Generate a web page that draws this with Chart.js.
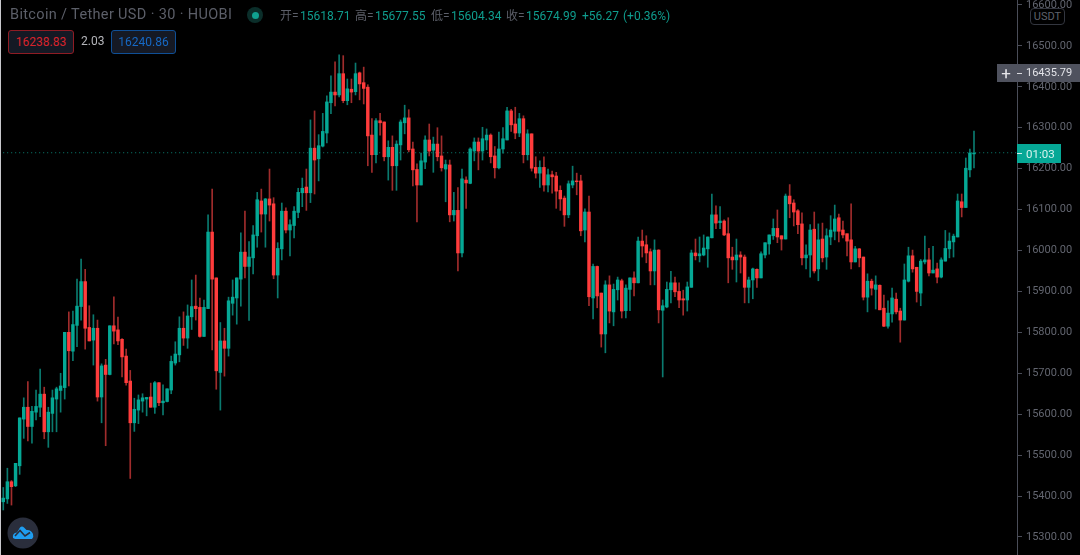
<!DOCTYPE html>
<html>
<head>
<meta charset="utf-8">
<title>Bitcoin / Tether USD</title>
<script src="https://cdn.jsdelivr.net/npm/chart.js@4/dist/chart.umd.js"></script>
<style>
  html, body { margin: 0; padding: 0; background: #000; }
  #wrap { position: relative; width: 1080px; height: 555px; overflow: hidden; background: #000; font-family: Roboto, "Noto Sans CJK SC", sans-serif; }
  #wrap canvas { position: absolute; left: 0; top: 0; }
  #edge { position: absolute; left: 0; top: 0; width: 1px; height: 555px; background: #c8c8cc; }
  .t { position: absolute; white-space: nowrap; font-size: 12px; line-height: 16px; }
  .grey { color: #5c5f69; }
  .teal { color: #0f9d8e; }
  .box { position: absolute; box-sizing: border-box; text-align: center; }
</style>
</head>
<body>
<div id="wrap">
  <canvas id="chart" width="1080" height="555"></canvas>
  <div id="edge"></div>

  <div class="t grey" style="left:10px;top:7px;font-size:14.5px;letter-spacing:.35px">Bitcoin / Tether USD · 30 · HUOBI</div>
  <div class="box" style="left:247px;top:7px;width:16px;height:16px;border-radius:8px;background:#0b2e2a"></div>
  <div class="box" style="left:251.5px;top:11.5px;width:7px;height:7px;border-radius:4px;background:#10a08f"></div>

  <div class="t grey" style="left:280px;top:8px">开=</div>
  <div class="t teal" style="left:300px;top:8px">15618.71</div>
  <div class="t grey" style="left:355px;top:8px">高=</div>
  <div class="t teal" style="left:375px;top:8px">15677.55</div>
  <div class="t grey" style="left:431px;top:8px">低=</div>
  <div class="t teal" style="left:451px;top:8px">15604.34</div>
  <div class="t grey" style="left:506px;top:8px">收=</div>
  <div class="t teal" style="left:526px;top:8px">15674.99</div>
  <div class="t teal" style="left:582px;top:8px">+56.27</div>
  <div class="t teal" style="left:623px;top:8px">(+0.36%)</div>

  <div class="box" style="left:8px;top:30px;width:66px;height:24px;line-height:22px;font-size:12px;border:1px solid #8f1c24;border-radius:3px;background:#151924;color:#d8232c">16238.83</div>
  <div class="t" style="left:81px;top:33px;color:#b4b5ba">2.03</div>
  <div class="box" style="left:111px;top:30px;width:65px;height:24px;line-height:22px;font-size:12px;border:1px solid #0f4f96;border-radius:3px;background:#151924;color:#1668c4">16240.86</div>

  <div class="box" style="left:1030px;top:8px;width:35px;height:17px;line-height:15px;font-size:11px;border:1px solid #33363f;border-radius:4px;background:#000;color:#5f626c">USDT</div>

  <div class="box" style="left:997px;top:64px;width:83px;height:18px;background:#4f525e"></div>
  <div class="t" style="left:999px;top:64px;width:14px;height:18px;line-height:18px;font-size:17px;text-align:center;color:#e6e6ea">+</div>
  <div class="box" style="left:1017px;top:72.5px;width:5px;height:1px;background:#d8d9de"></div>
  <div class="t" style="left:1026px;top:65px;font-size:11px;color:#e2e3e8">16435.79</div>

  <div class="box" style="left:1017px;top:144px;width:44px;height:19px;background:#06a896"></div>
  <div class="box" style="left:1017px;top:153px;width:5px;height:1px;background:#d4f1ed"></div>
  <div class="t" style="left:1026px;top:146px;font-size:11.5px;color:#d9f3ef">01:03</div>

  <svg style="position:absolute;left:7px;top:517px" width="32" height="32" viewBox="0 0 32 32">
    <circle cx="16" cy="16" r="15.5" fill="#2a2e3c"/>
    <path d="M6 21 Q5 16 10 15.5 L13 10.5 Q15 8.5 17 10.5 L19.5 13 Q24 12.5 26 17 Q27 20 25 22 L8 22 Z" fill="#1f9df0"/>
    <path d="M8 19 L13 13.5 L18 19 L23 15.5" fill="none" stroke="#2a2e3c" stroke-width="1.6"/>
  </svg>
</div>

<script>
// 30 minute candles
const opens = [
  15386,15393,15435,15425,15474,15588,15617,15570,15605,15617,
  15649,15557,15602,15637,15658,15665,15800,15754,15817,15863,
  15924,15812,15781,15810,15642,15720,15697,15816,15806,15783,
  15742,15681,15579,15610,15632,15637,15642,15617,15677,15628,
  15631,15659,15725,15745,15810,15786,15838,15864,15861,15790,
  15858,16045,15933,15702,15779,15761,15871,15884,15930,15996,
  15961,15982,16036,16121,16089,16126,16114,15940,16004,16096,
  16050,16061,16093,16141,16155,16141,16250,16224,16255,16287,
  16361,16387,16380,16432,16366,16394,16388,16434,16410,16399,
  16282,16234,16317,16314,16229,16252,16207,16258,16312,16324,
  16248,16198,16160,16216,16270,16245,16260,16231,16199,16209,
  16087,16098,15994,16172,16164,16243,16265,16243,16270,16282,
  16231,16202,16248,16270,16341,16309,16287,16322,16234,16285,
  16203,16189,16203,16160,16185,16182,16147,16128,16087,16160,
  16170,16170,16050,16094,15884,15961,15896,15796,15916,15850,
  15904,15926,15853,15905,15933,15921,16023,16014,15997,15950,
  16001,15854,15862,15904,15921,15900,15882,15879,15910,15994,
  15987,15989,16004,16031,16087,16068,16072,16041,15984,15977,
  15989,15984,15910,15928,15954,15933,15989,16016,16036,16054,
  16036,16028,16133,16116,16097,16065,15982,15989,16052,15955,
  16028,15984,16033,16047,16080,16050,16041,16026,15972,16004,
  15984,15886,15925,15905,15915,15859,15815,15845,15881,15852,
  15830,15925,15987,15959,15896,15972,15977,15945,15955,15935,
  15974,16004,16021,16033,16119,16105,16197,16236
]
const closes = [
  15395,15435,15423,15480,15591,15617,15570,15607,15619,15649,
  15557,15605,15640,15662,15669,15800,15755,15819,15864,15924,
  15810,15779,15810,15642,15718,15697,15816,15803,15779,15740,
  15677,15579,15612,15635,15640,15641,15617,15677,15628,15632,
  15662,15729,15747,15810,15786,15840,15863,15858,15790,15861,
  16045,15930,15706,15779,15761,15877,15886,15933,15996,15961,
  15984,16038,16124,16089,16126,16111,15940,16005,16096,16050,
  16063,16096,16142,16152,16141,16250,16221,16256,16291,16363,
  16387,16380,16432,16366,16395,16387,16432,16407,16396,16280,
  16234,16317,16312,16229,16252,16207,16260,16314,16324,16246,
  16197,16160,16219,16270,16243,16260,16229,16202,16210,16087,
  16098,15994,16175,16165,16248,16265,16243,16273,16282,16229,
  16202,16248,16273,16341,16307,16287,16322,16234,16285,16201,
  16189,16203,16160,16185,16180,16145,16126,16087,16163,16170,
  16168,16048,16094,15887,15961,15889,15796,15916,15852,15905,
  15928,15852,15908,15933,15921,16023,16011,15994,15950,16001,
  15855,15865,15905,15921,15899,15879,15879,15911,15994,15987,
  15992,16006,16033,16087,16067,16072,16038,15982,15977,15989,
  15984,15910,15928,15955,15933,15992,16019,16038,16054,16033,
  16028,16133,16114,16094,16063,15982,15989,16050,15950,16026,
  15982,16036,16050,16077,16047,16038,16023,15972,16004,15982,
  15886,15925,15908,15916,15855,15815,15847,15884,15850,15830,
  15928,15987,15955,15900,15974,15977,15945,15952,15935,15977,
  16005,16023,16035,16121,16105,16201,16238,16238
]
const highs = [
  15421,15468,15438,15480,15591,15640,15680,15619,15659,15710,
  15666,15617,15659,15666,15700,15800,15850,15852,15930,15979,
  15954,15865,15843,15830,15723,15734,15816,15887,15837,15785,
  15759,15707,15639,15647,15650,15641,15676,15680,15677,15672,
  15662,15742,15777,15838,15850,15867,15928,15940,15884,15879,
  16087,16150,15933,15824,15810,15886,15928,15933,16043,16096,
  16022,16061,16142,16150,16127,16199,16129,16019,16116,16104,
  16075,16107,16152,16177,16199,16319,16341,16283,16335,16378,
  16427,16461,16478,16476,16419,16419,16458,16436,16448,16405,
  16322,16322,16335,16314,16268,16280,16268,16319,16355,16344,
  16265,16212,16238,16280,16309,16277,16300,16280,16221,16221,
  16142,16154,16199,16180,16251,16275,16275,16301,16297,16285,
  16254,16289,16300,16350,16345,16350,16335,16329,16295,16285,
  16229,16219,16229,16199,16194,16191,16158,16133,16170,16206,
  16189,16184,16102,16133,15967,15962,15896,15926,15938,15918,
  15935,15930,15916,15933,15948,16033,16050,16036,16004,16026,
  16002,15879,15923,15949,15935,15921,15903,15923,16001,16028,
  16033,16038,16033,16138,16109,16107,16075,16080,16008,16028,
  15997,15989,15935,15957,15955,15997,16019,16038,16077,16099,
  16036,16138,16161,16124,16100,16092,16014,16063,16094,16065,
  16067,16053,16085,16111,16089,16072,16041,16114,16010,16005,
  15984,15943,15930,15938,15916,15891,15877,15908,15896,15859,
  15967,16008,16001,15959,15978,16035,16005,16010,15969,15982,
  16049,16043,16040,16138,16138,16226,16248,16292
]
const lows = [
  15366,15382,15378,15423,15453,15541,15535,15529,15586,15594,
  15540,15519,15557,15557,15605,15637,15669,15731,15765,15830,
  15759,15779,15720,15632,15579,15523,15696,15772,15770,15691,
  15671,15443,15558,15577,15605,15596,15617,15602,15621,15598,
  15630,15650,15720,15728,15768,15761,15807,15830,15788,15790,
  15858,15757,15661,15610,15693,15742,15842,15820,15864,15933,
  15829,15943,16008,16045,16008,16072,15931,15884,15977,16043,
  15987,16031,16080,16107,16098,16117,16138,16170,16253,16263,
  16334,16353,16375,16361,16356,16361,16380,16368,16358,16207,
  16191,16214,16282,16219,16172,16147,16147,16221,16285,16241,
  16158,16070,16160,16200,16231,16191,16219,16194,16119,16070,
  16072,15950,15984,16103,16163,16219,16197,16221,16246,16214,
  16177,16199,16238,16270,16291,16273,16278,16214,16221,16194,
  16177,16154,16145,16143,16140,16103,16098,16059,16080,16153,
  16136,16036,16021,15865,15833,15860,15764,15750,15823,15816,
  15879,15835,15835,15853,15889,15921,15984,15970,15916,15916,
  15823,15691,15860,15872,15887,15860,15842,15852,15910,15977,
  15972,15987,15959,16031,16053,16053,16036,15921,15954,15923,
  15945,15872,15872,15882,15910,15933,15982,15991,16027,16019,
  16001,16028,16080,16060,16041,15965,15955,15935,15945,15926,
  15972,15954,16014,16026,16021,16031,15987,15955,15972,15960,
  15879,15850,15891,15857,15855,15814,15810,15825,15845,15776,
  15830,15923,15947,15874,15865,15967,15938,15945,15921,15933,
  15974,15982,15984,16033,16082,16105,16180,16202
]
const tickValues = [15300,15400,15500,15600,15700,15800,15900,16000,16100,16200,16300,16400,16500,16600]
const lastPrice = 16238.83

const up = i => closes[i] >= opens[i]

new Chart(document.getElementById("chart"), {
  type: 'bar',
  data: {
    datasets: [{
      type: 'line',
      data: [{x: -1, y: lastPrice}, {x: 248, y: lastPrice}],
      borderColor: "#0b8074",
      borderWidth: 1,
      borderDash: [1, 3],
      pointRadius: 0,
      order: 3
    }, {
      // wicks
      data: highs.map((h, i) => ({x: i, y: [lows[i], h]})),
      backgroundColor: highs.map((h, i) => up(i) ? "#0a7a6f" : "#a02c2c"),
      barThickness: 1,
      grouped: false,
      order: 2
    }, {
      // bodies
      data: opens.map((o, i) => ({x: i, y: [o, closes[i]]})),
      backgroundColor: opens.map((o, i) => up(i) ? "#05a895" : "#ff3c3c"),
      barThickness: 2.8,
      grouped: false,
      order: 1
    }]
  },
  options: {
    responsive: false,
    animation: false,
    events: [],
    layout: {padding: 0},
    plugins: {legend: {display: false}, tooltip: {enabled: false}},
    scales: {
      x: {
        type: 'linear',
        offset: false,
        min: -0.8,
        max: 247.5,
        display: false
      },
      y: {
        position: 'right',
        min: 15256,
        max: 16612,
        afterBuildTicks: s => { s.ticks = tickValues.map(v => ({value: v})) },
        afterFit: s => { s.width = 63; s.paddingTop = 0; s.paddingBottom = 0 },
        border: {display: true, color: "#4a4d58", width: 1},
        grid: {drawOnChartArea: false, drawTicks: true, tickLength: 5, color: "#4a4d58"},
        ticks: {
          color: "#62656f",
          padding: 4,
          font: {family: 'Roboto', size: 11},
          callback: v => v.toFixed(2)
        }
      }
    }
  }
});
</script>
</body>
</html>
